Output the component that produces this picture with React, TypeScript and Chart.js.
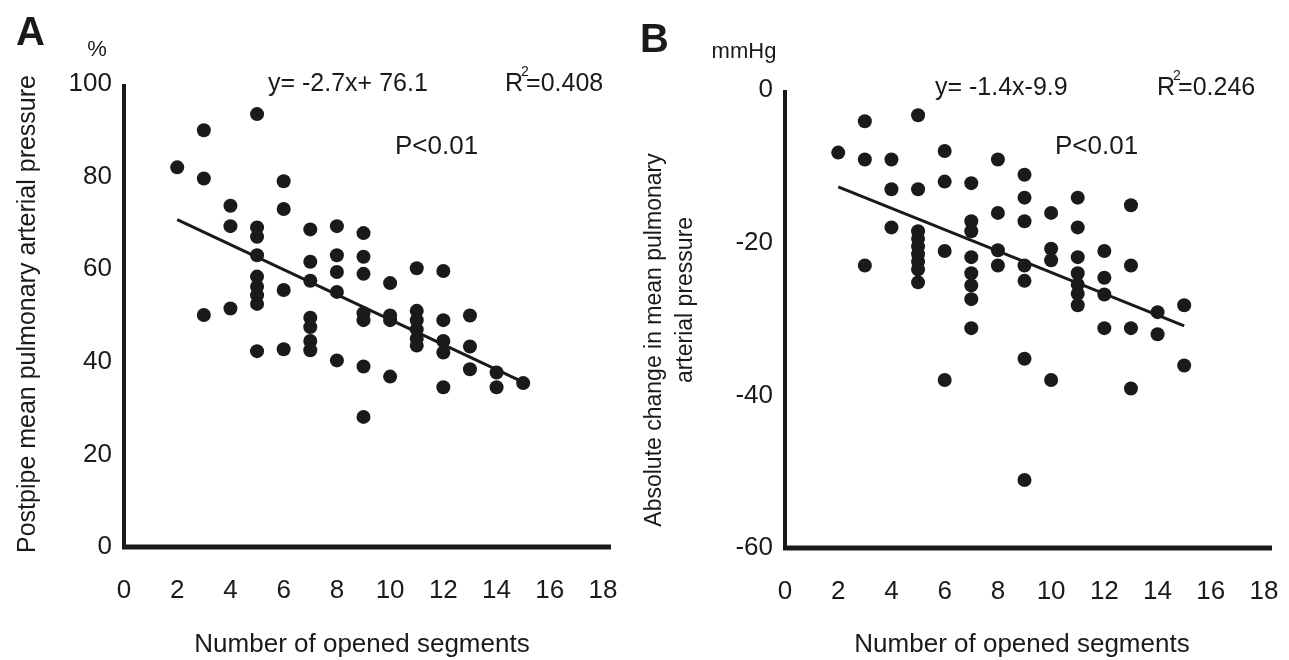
import React, { useEffect, useRef } from 'react';
import { Chart, registerables } from 'chart.js';

Chart.register(...registerables);

// ---------- Data ----------
// Panel A: number of opened segments vs postpipe mean PAP (%)
const segmentsA = [
  2,
  3, 3, 3,
  4, 4, 4,
  5, 5, 5, 5, 5, 5, 5, 5, 5,
  6, 6, 6, 6,
  7, 7, 7, 7, 7, 7, 7,
  8, 8, 8, 8, 8,
  9, 9, 9, 9, 9, 9, 9,
  10, 10, 10, 10,
  11, 11, 11, 11, 11, 11,
  12, 12, 12, 12, 12,
  13, 13, 13,
  14, 14,
  15,
];
const pressureA = [
  82,
  90, 79.6, 50.1,
  73.7, 69.3, 51.5,
  93.5, 69, 67, 63, 58.4, 56.2, 54.4, 52.5, 42.3,
  79, 73, 55.5, 42.7,
  68.6, 61.6, 57.5, 49.5, 47.5, 44.5, 42.5,
  69.3, 63, 59.4, 55.1, 40.3,
  67.8, 62.7, 59, 50.5, 49, 39, 28.1,
  57, 50, 49, 36.8,
  60.2, 51, 49, 47, 45, 43.5,
  59.6, 49, 44.5, 42, 34.5,
  50, 43.3, 38.4,
  37.7, 34.5,
  35.4,
];
const fitXA = [2, 15];
const fitYA = [70.7, 35.6];

// Panel B: number of opened segments vs absolute change in mean PAP (mmHg)
const segmentsB = [
  2,
  3, 3, 3,
  4, 4, 4,
  5, 5, 5, 5, 5, 5, 5, 5, 5,
  6, 6, 6, 6,
  7, 7, 7, 7, 7, 7, 7, 7,
  8, 8, 8, 8,
  9, 9, 9, 9, 9, 9, 9,
  10, 10, 10, 10,
  11, 11, 11, 11, 11, 11, 11,
  12, 12, 12, 12,
  13, 13, 13, 13,
  14, 14,
  15, 15,
];
const changeB = [
  -8.2,
  -4.1, -9.1, -23,
  -9.1, -13, -18,
  -3.3, -13, -18.5, -19.5, -20.5, -21.5, -22.5, -23.5, -25.2,
  -8, -12, -21.1, -38,
  -12.2, -17.2, -18.5, -21.9, -24, -25.6, -27.4, -31.2,
  -9.1, -16.1, -21, -23,
  -11.1, -14.1, -17.2, -23, -25, -35.2, -51.1,
  -16.1, -20.8, -22.3, -38,
  -14.1, -18, -21.9, -24, -25.5, -26.7, -28.2,
  -21.1, -24.6, -26.8, -31.2,
  -15.1, -23, -31.2, -39.1,
  -29.1, -32,
  -28.2, -36.1,
];
const fitXB = [2, 15];
const fitYB = [-12.7, -30.9];

const xTickValues = [0, 2, 4, 6, 8, 10, 12, 14, 16, 18];
const yTicksA = [0, 20, 40, 60, 80, 100];
const yTicksB = [-60, -40, -20, 0];

const xTitle = 'Number of opened segments';
const yTitleA = 'Postpipe mean pulmonary arterial pressure';
const yTitleB1 = 'Absolute change in mean pulmonary';
const yTitleB2 = 'arterial pressure';
const eqA = 'y= -2.7x+ 76.1';
const r2A = '=0.408';
const eqB = 'y= -1.4x-9.9';
const r2B = '=0.246';
const pText = 'P<0.01';

const FONT = '"Liberation Sans", Arial, Helvetica, sans-serif';
const INK = '#1a1a1a';

type Overlay = {
  letter: string; letterX: number; letterY: number;
  unit: string; unitX: number; unitY: number;
  eq: string; eqX: number; eqY: number;
  r2: string; r2X: number; r2Y: number;
  pX: number; pY: number;
  xTitleX: number; xTitleY: number;
  yTitles: { text: string; x: number; y: number; size: number }[];
};

function overlayPlugin(o: Overlay) {
  return {
    id: 'overlay' + o.letter,
    afterDatasetsDraw(chart: any) {
      const ctx = chart.ctx as CanvasRenderingContext2D;
      const a = chart.chartArea;
      ctx.save();
      // axes
      ctx.strokeStyle = INK;
      ctx.lineJoin = 'miter';
      ctx.lineCap = 'butt';
      ctx.lineWidth = 4;
      ctx.beginPath();
      ctx.moveTo(a.left, a.top);
      ctx.lineTo(a.left, a.bottom);
      ctx.stroke();
      ctx.lineWidth = 5;
      ctx.beginPath();
      ctx.moveTo(a.left - 2, a.bottom);
      ctx.lineTo(a.right, a.bottom);
      ctx.stroke();

      ctx.fillStyle = INK;
      // panel letter
      ctx.font = `bold 40px ${FONT}`;
      ctx.textAlign = 'left';
      ctx.textBaseline = 'alphabetic';
      ctx.fillText(o.letter, o.letterX, o.letterY);
      // unit
      ctx.font = `22px ${FONT}`;
      ctx.textAlign = 'center';
      ctx.textBaseline = 'middle';
      ctx.fillText(o.unit, o.unitX, o.unitY);
      // equation
      ctx.font = `25px ${FONT}`;
      ctx.textAlign = 'left';
      ctx.fillText(o.eq, o.eqX, o.eqY);
      // R^2
      const wR = ctx.measureText('R').width;
      ctx.fillText('R', o.r2X, o.r2Y);
      ctx.fillText(o.r2, o.r2X + wR + 3, o.r2Y);
      ctx.font = `14px ${FONT}`;
      ctx.fillText('2', o.r2X + wR - 2, o.r2Y - 12);
      // P
      ctx.font = `26px ${FONT}`;
      ctx.fillText(pText, o.pX, o.pY);
      // x title
      ctx.font = `26px ${FONT}`;
      ctx.textAlign = 'center';
      ctx.fillText(xTitle, o.xTitleX, o.xTitleY);
      // y titles
      for (const t of o.yTitles) {
        ctx.save();
        ctx.translate(t.x, t.y);
        ctx.rotate(-Math.PI / 2);
        ctx.font = `${t.size}px ${FONT}`;
        ctx.textAlign = 'center';
        ctx.textBaseline = 'middle';
        ctx.fillText(t.text, 0, 0);
        ctx.restore();
      }
      ctx.restore();
    },
  };
}

function makeConfig(
  xs: number[], ys: number[], fx: number[], fy: number[],
  yMin: number, yMax: number, yTicks: number[],
  padding: { left: number; right: number; top: number; bottom: number },
  overlay: Overlay
): any {
  const pts = xs.map((x, i) => ({ x, y: ys[i] }));
  const fit = fx.map((x, i) => ({ x, y: fy[i] }));
  return {
    type: 'scatter',
    data: {
      datasets: [
        {
          data: pts,
          pointRadius: 7,
          pointHoverRadius: 7,
          backgroundColor: INK,
          borderWidth: 0,
          showLine: false,
        },
        {
          data: fit,
          showLine: true,
          borderColor: INK,
          borderWidth: 3,
          pointRadius: 0,
          fill: false,
        },
      ],
    },
    options: {
      responsive: false,
      animation: false,
      devicePixelRatio: 1,
      layout: { padding },
      plugins: { legend: { display: false }, tooltip: { enabled: false } },
      scales: {
        x: {
          type: 'linear',
          min: 0,
          max: 18.3,
          afterFit: (s: any) => { s.height = 60; },
          afterBuildTicks: (s: any) => { s.ticks = xTickValues.map((v) => ({ value: v })); },
          grid: { display: false, drawTicks: false },
          border: { display: false },
          ticks: {
            padding: 28,
            color: INK,
            font: { family: FONT, size: 26 },
            maxRotation: 0,
            autoSkip: false,
          },
        },
        y: {
          type: 'linear',
          min: yMin,
          max: yMax,
          afterFit: (s: any) => { s.width = 60; },
          afterBuildTicks: (s: any) => { s.ticks = yTicks.map((v) => ({ value: v })); },
          grid: { display: false, drawTicks: false },
          border: { display: false },
          ticks: {
            padding: 12,
            color: INK,
            font: { family: FONT, size: 26 },
            autoSkip: false,
          },
        },
      },
    },
    plugins: [overlayPlugin(overlay)],
  };
}

export default function App() {
  const refA = useRef<HTMLCanvasElement>(null);
  const refB = useRef<HTMLCanvasElement>(null);

  useEffect(() => {
    const overlayA: Overlay = {
      letter: 'A', letterX: 16, letterY: 45,
      unit: '%', unitX: 97, unitY: 50,
      eq: eqA, eqX: 268, eqY: 84,
      r2: r2A, r2X: 505, r2Y: 84,
      pX: 395, pY: 147,
      xTitleX: 362, xTitleY: 645,
      yTitles: [{ text: yTitleA, x: 28, y: 314, size: 25 }],
    };
    const overlayB: Overlay = {
      letter: 'B', letterX: 10, letterY: 52,
      unit: 'mmHg', unitX: 114, unitY: 52,
      eq: eqB, eqX: 305, eqY: 88,
      r2: r2B, r2X: 527, r2Y: 88,
      pX: 425, pY: 147,
      xTitleX: 392, xTitleY: 645,
      yTitles: [
        { text: yTitleB1, x: 25, y: 340, size: 23 },
        { text: yTitleB2, x: 56, y: 300, size: 23 },
      ],
    };
    const chartA = new Chart(
      refA.current as HTMLCanvasElement,
      makeConfig(segmentsA, pressureA, fitXA, fitYA, 0, 100, yTicksA,
        { left: 64, right: 49, top: 84, bottom: 53 }, overlayA)
    );
    const chartB = new Chart(
      refB.current as HTMLCanvasElement,
      makeConfig(segmentsB, changeB, fitXB, fitYB, -60, 0, yTicksB,
        { left: 95, right: 48, top: 90, bottom: 52 }, overlayB)
    );
    return () => {
      chartA.destroy();
      chartB.destroy();
    };
  }, []);

  return (
    <div style={{ position: 'fixed', left: 0, top: 0, width: 1289, height: 660, background: '#fff', overflow: 'hidden' }}>
      <canvas ref={refA} width={660} height={660} style={{ position: 'absolute', left: 0, top: 0, width: 660, height: 660 }} />
      <canvas ref={refB} width={690} height={660} style={{ position: 'absolute', left: 630, top: 0, width: 690, height: 660 }} />
    </div>
  );
}
